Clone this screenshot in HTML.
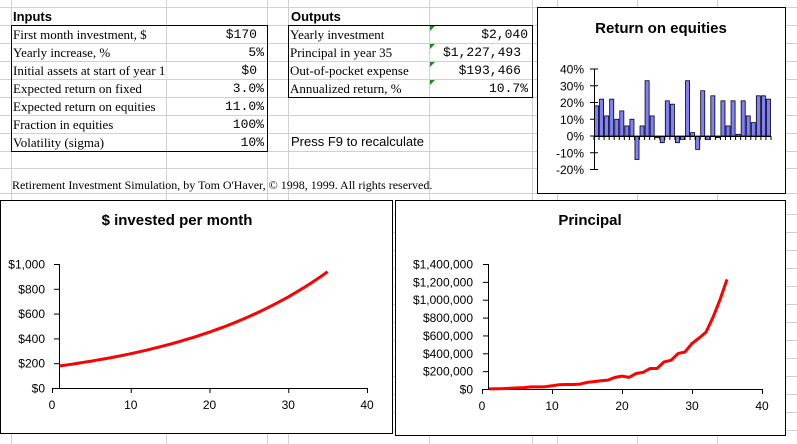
<!DOCTYPE html>
<html><head><meta charset="utf-8"><style>
html,body{margin:0;padding:0;background:#fff;overflow:hidden}
svg{display:block}
.ser{font-family:"Liberation Serif",serif;font-size:13px;fill:#000}
.mono{font-family:"Liberation Mono",monospace;font-size:13px;fill:#000}
.ar{font-family:"Liberation Sans",sans-serif;fill:#000}
</style></head><body>
<svg id="s" width="797" height="444" xmlns="http://www.w3.org/2000/svg">
<g id="grid"></g>
<text class="ar" x="13" y="21" font-size="13" font-weight="bold">Inputs</text>
<text class="ar" x="291" y="21" font-size="13" font-weight="bold">Outputs</text>
<g id="tables"></g>
<rect x="11.5" y="25.5" width="256" height="126" fill="none" stroke="#000"/>
<rect x="288.5" y="25.5" width="244" height="72" fill="none" stroke="#000"/>
<text class="ar" x="291" y="146" font-size="13">Press F9 to recalculate</text>
<text class="ser" x="12" y="189" style="font-size:12px">Retirement Investment Simulation, by Tom O'Haver, © 1998, 1999.  All rights reserved.</text>

<g>
<rect x="537.5" y="7.5" width="248" height="186" fill="#fff" stroke="#000"/>
<text class="ar" x="661" y="33" font-size="15" font-weight="bold" text-anchor="middle">Return on equities</text>
<g id="ret"></g>
</g>
<g>
<rect x="0.5" y="200.5" width="392" height="233" fill="#fff" stroke="#000"/>
<text class="ar" x="177" y="225" font-size="15" font-weight="bold" text-anchor="middle">$ invested per month</text>
<g id="inv"></g>
</g>
<g>
<rect x="395.5" y="200.5" width="390" height="235" fill="#fff" stroke="#000"/>
<text class="ar" x="590" y="225" font-size="15" font-weight="bold" text-anchor="middle">Principal</text>
<g id="pri"></g>
</g>
</svg>
<script>
const returnPct=[18,22,12,22,10,15,6,10,-14,6,33,12,-1,-4,21,19,-4,-2,33,2,-8,27,-2,24,-1,21,6,21,1,21,12,8,24,24,22];
const returnTicks=[40,30,20,10,0,-10,-20];
const investedPerMonth=[178,187,197,207,217,228,239,251,264,277,291,305,321,337,353,371,390,409,430,451,474,497,522,548,576,605,635,667,700,735,772,810,851,893,938];
const investedTicks=[0,200,400,600,800,1000];
const principalK=[1,3,5,8,12,16,23,24,26,36,48,50,50,55,74,83,92,100,130,144,130,174,186,230,230,303,322,396,415,510,570,637,803,1000,1227];
const principalTicks=[0,200000,400000,600000,800000,1000000,1200000,1400000];
const yearTicks=[0,10,20,30,40];
const inputLabels=["First month investment, $","Yearly increase, %","Initial assets at start of year 1","Expected return on fixed","Expected return on equities","Fraction in equities","Volatility (sigma)"];
const inputValues=["$170","5%","$0","3.0%","11.0%","100%","10%"];
const outputLabels=["Yearly investment","Principal in year 35","Out-of-pocket expense","Annualized return, %"];
const outputValues=["$2,040","$1,227,493","$193,466","10.7%"];

const NS="http://www.w3.org/2000/svg";
function mk(p,tag,a,txt){const e=document.createElementNS(NS,tag);for(const k in a)e.setAttribute(k,a[k]);if(txt!==undefined)e.textContent=txt;p.appendChild(e);return e;}
const grid=document.getElementById('grid');
[11,166,267,288,429,532,557,637,717].forEach(x=>{const l=mk(grid,'line',{x1:x+.5,x2:x+.5,y1:0,y2:444,stroke:'#d0d0d0'});

});
[7,25,43,61,79,97,115,133,151,168,193,214,232,250,268,286,304,322,340,358,376,394,412,430].forEach(y=>{const l=mk(grid,'line',{x1:0,x2:797,y1:y+.5,y2:y+.5,stroke:'#d0d0d0'});

});
const tb=document.getElementById('tables');
const inR=[257,264,257,264,264,264,264];
inputLabels.forEach((t,i)=>{
 const y=25+i*18;
 const e=mk(tb,'text',{class:'ser',x:13,y:y+14},t);
 
 
 if(i===2){mk(tb,'rect',{x:166.5,y:y+1,width:100,height:17,fill:'#fff'});}
 const v=mk(tb,'text',{class:'mono',x:inR[i],y:y+13,'text-anchor':'end'},inputValues[i]);
 
 
});
const outR=[528,521,521,528];
outputLabels.forEach((t,i)=>{
 const y=25+i*18;
 const e=mk(tb,'text',{class:'ser',x:290,y:y+14},t);
 
 
 const v=mk(tb,'text',{class:'mono',x:outR[i],y:y+13,'text-anchor':'end'},outputValues[i]);
 
 
 const g=mk(tb,'path',{d:`M${430} ${y+1}h5l-5 5z`,fill:'#1a8a1a'});
 
 
});

// Return chart
const R=document.getElementById('ret');
const ry=v=>136-v*(67/40);
const bx0=594,bx1=771,bw=(bx1-bx0)/returnPct.length;
returnTicks.forEach(t=>{
 const y=ry(t);
 mk(R,'line',{x1:590,x2:598,y1:y,y2:y,stroke:'#000'});
 const e=mk(R,'text',{class:'ar',x:584,y:y+4.5,'font-size':12,'text-anchor':'end'},t+'%');
 
 
});
returnPct.forEach((v,i)=>{
 const x=bx0+i*bw, y0=ry(0), y=ry(v);
 const b=mk(R,'rect',{x:x+0.5,y:Math.min(y,y0),width:bw-1,height:Math.abs(y-y0),fill:'#8080ff',stroke:'#000','stroke-width':0.8});
 
 
});
mk(R,'line',{x1:594.5,x2:594.5,y1:ry(40),y2:ry(-20),stroke:'#000'});
mk(R,'line',{x1:594,x2:771,y1:ry(0)+.5,y2:ry(0)+.5,stroke:'#000'});
for(let i=0;i<=returnPct.length;i++){mk(R,'line',{x1:bx0+i*bw,x2:bx0+i*bw,y1:ry(0),y2:ry(0)+4,stroke:'#000'});}

function lineChart(G,vals,ticks,fmt,x0,x40,yAx,yTop,yBot,yMax,lblX,name){
 const sx=v=>x0+(x40-x0)*v/40, sy=v=>yBot-(yBot-yTop)*v/yMax;
 mk(G,'line',{x1:yAx+.5,x2:yAx+.5,y1:yTop,y2:yBot,stroke:'#000'});
 mk(G,'line',{x1:x0,x2:x40,y1:yBot+.5,y2:yBot+.5,stroke:'#000'});
 ticks.forEach(t=>{const y=sy(t);mk(G,'line',{x1:yAx-5,x2:yAx,y1:y+.5,y2:y+.5,stroke:'#000'});
  const e=mk(G,'text',{class:'ar',x:lblX,y:y+4.5,'font-size':12,'text-anchor':'end'},fmt(t));
  
  });
 yearTicks.forEach(t=>{const x=sx(t);mk(G,'line',{x1:x+.5,x2:x+.5,y1:yBot,y2:yBot+5,stroke:'#000'});
  const e=mk(G,'text',{class:'ar',x:x,y:yBot+21,'font-size':12,'text-anchor':'middle'},String(t));
  
  });
 const p=vals.map((v,i)=>(i?'L':'M')+sx(i+1).toFixed(1)+' '+sy(v).toFixed(1)).join('');
 const l=mk(G,'path',{d:p,fill:'none',stroke:'#ff0000','stroke-width':3,'stroke-linejoin':'round'});
 
 
}
const money=v=>'$'+v.toLocaleString('en-US');
lineChart(document.getElementById('inv'),investedPerMonth,investedTicks,money,52,367,59,264,388,1000,45,'invested');
lineChart(document.getElementById('pri'),principalK.map(v=>v*1000),principalTicks,money,482,762,488,264,389,1400000,473,'principal');
</script>
</body></html>
